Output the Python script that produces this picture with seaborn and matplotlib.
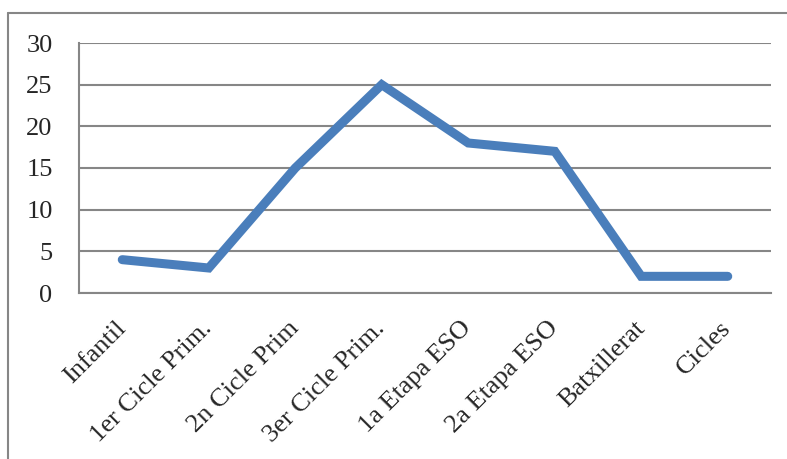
import matplotlib
matplotlib.use("Agg")
import matplotlib.pyplot as plt
import seaborn as sns
import pandas as pd
from matplotlib.lines import Line2D

categories = ["Infantil", "1er Cicle Prim.", "2n Cicle Prim", "3er Cicle Prim.",
              "1a Etapa ESO", "2a Etapa ESO", "Batxillerat", "Cicles"]
values = [4, 3, 15, 25, 18, 17, 2, 2]
y_ticks = [0, 5, 10, 15, 20, 25, 30]

df = pd.DataFrame({"cat": categories, "val": values})

sns.set_style("white")
plt.rcParams["font.family"] = ["Liberation Serif", "DejaVu Serif"]

grid_color = "#868686"
fig = plt.figure(figsize=(7.87, 4.59), dpi=100)
ax = fig.add_axes([79 / 787, 1 - 293 / 459, (771 - 79) / 787, (293 - 43) / 459])

sns.lineplot(data=df, x="cat", y="val", ax=ax, color="#4A7EBB", linewidth=6.5,
             sort=False, solid_capstyle="round", solid_joinstyle="miter")

ax.set_xlim(-0.5, len(categories) - 0.5)
ax.set_ylim(0, 30)
ax.set_yticks(y_ticks)
ax.set_xticks(range(len(categories)))
ax.set_xticklabels(categories, rotation=45, ha="right", va="center",
                   rotation_mode="anchor")
ax.set_xticks([i - 0.5 for i in range(len(categories) + 1)], minor=True)
ax.tick_params(axis="x", which="major", length=0, pad=23, labelsize=19)
ax.tick_params(axis="x", which="minor", length=8, width=1.5, color=grid_color,
               direction="out")
ax.tick_params(axis="y", length=8, width=1.5, color=grid_color, labelsize=19,
               pad=11, direction="out")
ax.set_xlabel("")
ax.set_ylabel("")

ax.grid(axis="y", color=grid_color, linewidth=1.5)
ax.set_axisbelow(True)
for side in ["top", "right"]:
    ax.spines[side].set_visible(False)
for side in ["left", "bottom"]:
    ax.spines[side].set_color(grid_color)
    ax.spines[side].set_linewidth(1.5)

# chart area border (left and top edges)
x0, y0 = 8 / 787, 1 - 13 / 459
fig.add_artist(Line2D([x0, x0], [0, y0], transform=fig.transFigure,
                      color=grid_color, linewidth=1.5))
fig.add_artist(Line2D([x0, 1], [y0, y0], transform=fig.transFigure,
                      color=grid_color, linewidth=1.5))

fig.savefig("out.png", dpi=100)
